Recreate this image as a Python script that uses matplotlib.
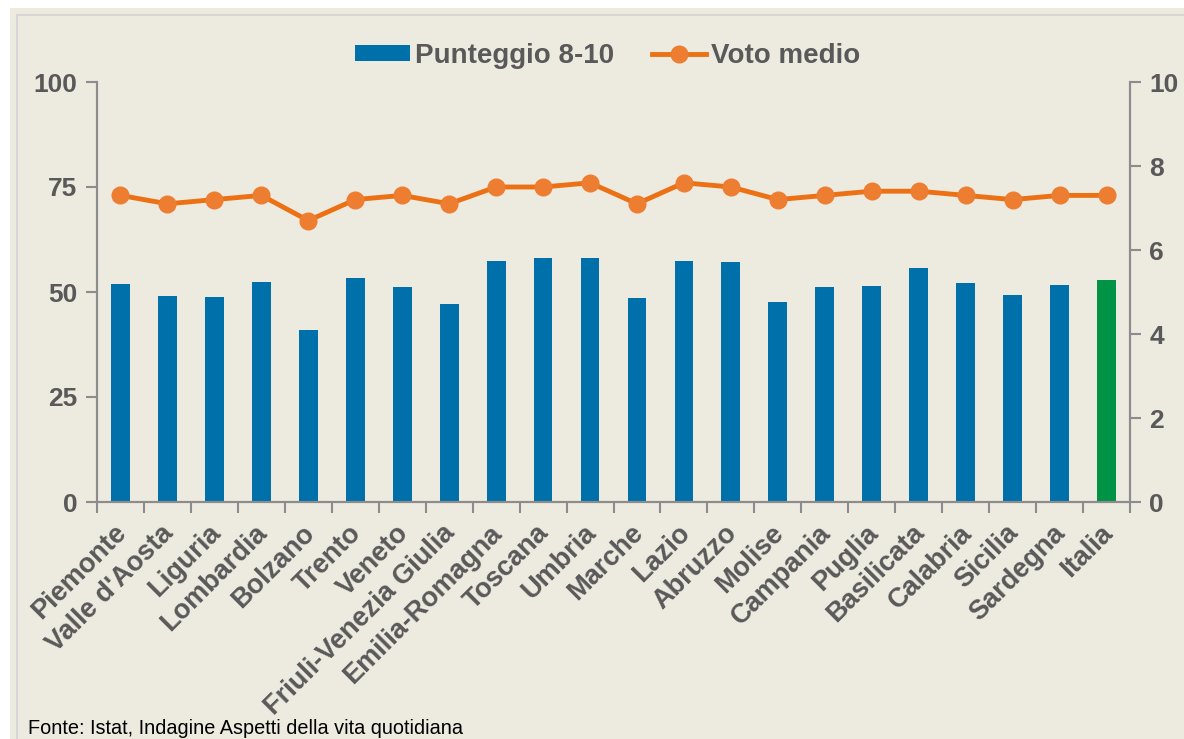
import matplotlib
matplotlib.use('Agg')
import matplotlib.pyplot as plt
import matplotlib.transforms as mtransforms
import numpy as np
from matplotlib.patches import Rectangle
from matplotlib.lines import Line2D

regioni = ['Piemonte', "Valle d'Aosta", 'Liguria', 'Lombardia', 'Bolzano', 'Trento',
           'Veneto', 'Friuli-Venezia Giulia', 'Emilia-Romagna', 'Toscana', 'Umbria',
           'Marche', 'Lazio', 'Abruzzo', 'Molise', 'Campania', 'Puglia', 'Basilicata',
           'Calabria', 'Sicilia', 'Sardegna', 'Italia']
punteggio = [52.0, 49.0, 48.8, 52.4, 40.9, 53.3, 51.1, 47.1, 57.4, 58.0, 58.0,
             48.5, 57.3, 57.1, 47.7, 51.2, 51.4, 55.8, 52.1, 49.3, 51.7, 52.9]
voto = [7.3, 7.1, 7.2, 7.3, 6.7, 7.2, 7.3, 7.1, 7.5, 7.5, 7.6,
        7.1, 7.6, 7.5, 7.2, 7.3, 7.4, 7.4, 7.3, 7.2, 7.3, 7.3]

BLUE = '#0070AA'
GREEN = '#009245'
ORANGE = '#EC7115'
MARKER = '#ED7D31'
BG = '#EDEBE0'
TXT = '#595959'
AX = '#8C8C8C'

plt.rcParams['font.family'] = ['Liberation Sans', 'DejaVu Sans']

fig = plt.figure(figsize=(11.84, 7.39), dpi=100)
fig.patch.set_facecolor('white')
# beige panel with thin inner border
fig.add_artist(Rectangle((10/1184, 0), 1, 1 - 8/739, transform=fig.transFigure,
                         facecolor=BG, edgecolor='none', zorder=-2))
fig.add_artist(Line2D([17/1184, 1], [1 - 15/739, 1 - 15/739], transform=fig.transFigure,
                      color='#D6D6D6', lw=1.5, zorder=-1))
fig.add_artist(Line2D([17/1184, 17/1184], [0, 1 - 15/739], transform=fig.transFigure,
                      color='#D6D6D6', lw=1.5, zorder=-1))

ax = fig.add_axes([97/1184, 1 - 502/739, (1130 - 97)/1184, (502 - 82)/739])
ax.set_facecolor('none')
x = np.arange(len(regioni))
colors = [BLUE] * (len(regioni) - 1) + [GREEN]
ax.bar(x, punteggio, width=0.4, color=colors, zorder=2)
ax.set_xlim(-0.5, len(regioni) - 0.5)
ax.set_ylim(0, 100)
ax.set_yticks([0, 25, 50, 75, 100])

ax2 = ax.twinx()
ax2.plot(x, voto, color=ORANGE, lw=3.5, marker='o', markersize=12,
         markerfacecolor=MARKER, markeredgecolor=MARKER, zorder=3)
ax2.set_ylim(0, 10)
ax2.set_yticks([0, 2, 4, 6, 8, 10])

for a in (ax, ax2):
    a.spines['top'].set_visible(False)
    for s in ['left', 'right', 'bottom']:
        a.spines[s].set_color(AX)
        a.spines[s].set_linewidth(1.5)
    a.tick_params(axis='y', length=8, width=1.5, color=AX, labelsize=19,
                  labelcolor=TXT, pad=6)
    for lab in a.get_yticklabels():
        lab.set_fontweight('bold')

ax.set_xticks(x)
ax.set_xticklabels(regioni, rotation=45, ha='right', rotation_mode='anchor',
                   fontsize=19.5, fontweight='bold', color=TXT)
ax.tick_params(axis='x', which='major', length=0, pad=13)
ax.set_xticks(np.arange(-0.5, len(regioni) + 0.5, 1), minor=True)
ax.tick_params(axis='x', which='minor', length=8, width=1.5, color=AX)
shift = mtransforms.ScaledTranslation(-7/100, 0, fig.dpi_scale_trans)
for lab in ax.get_xticklabels():
    lab.set_transform(lab.get_transform() + shift)

handles = [Rectangle((0, 0), 1, 1, facecolor=BLUE),
           Line2D([], [], color=ORANGE, lw=3.5, marker='o', markersize=12,
                  markerfacecolor=MARKER, markeredgecolor=MARKER)]
fig.legend(handles, ['Punteggio 8-10', 'Voto medio'], loc='center',
           bbox_to_anchor=(608/1184, 1 - 56/739), ncol=2, frameon=False,
           prop={'weight': 'bold', 'size': 20}, labelcolor=TXT,
           handlelength=1.95, handleheight=0.5, handletextpad=0.2,
           columnspacing=1.35)

fig.text(28/1184, 1 - 729/739, 'Fonte: Istat, Indagine Aspetti della vita quotidiana',
         fontsize=14.3, color='black', va='center', ha='left')

fig.savefig('out.png', dpi=100)
